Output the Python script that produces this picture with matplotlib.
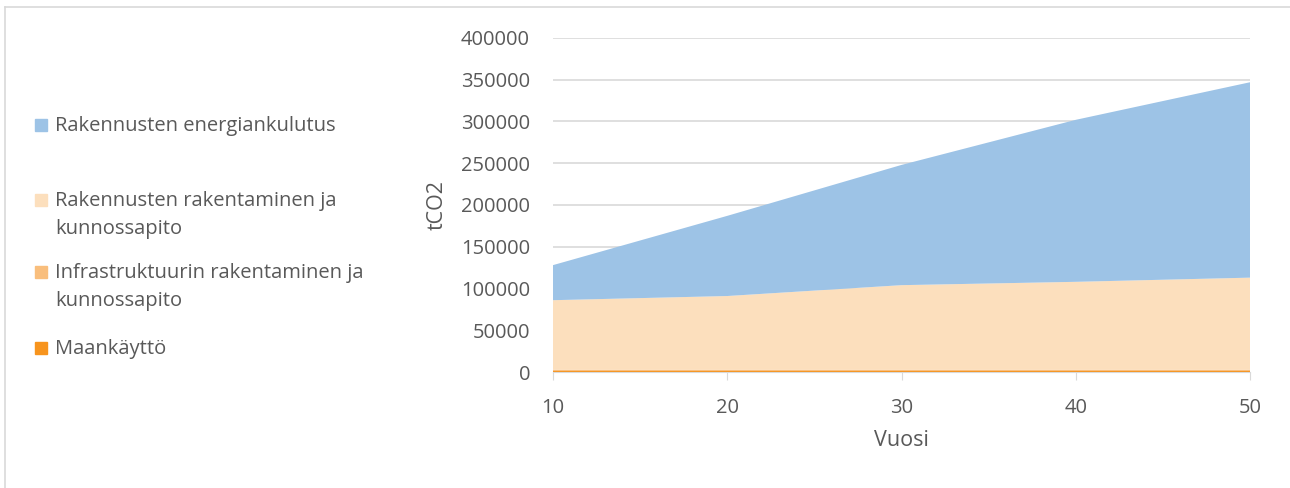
import matplotlib
matplotlib.use("Agg")
import matplotlib.pyplot as plt
from matplotlib.patches import Rectangle
from matplotlib.lines import Line2D

years = [10, 20, 30, 40, 50]
maankaytto = [1000, 1000, 1000, 1000, 1000]
infra = [1500, 1500, 1500, 1500, 1500]
rak_rakentaminen = [83500, 88500, 101500, 105500, 110500]
energiankulutus = [42000, 96000, 144000, 194000, 234000]

labels = ["Maankäyttö", "Infrastruktuurin rakentaminen ja\nkunnossapito",
          "Rakennusten rakentaminen ja\nkunnossapito", "Rakennusten energiankulutus"]
colors = ["#F7941D", "#F9BE7C", "#FCDFBD", "#9DC3E6"]

yticks = [0, 50000, 100000, 150000, 200000, 250000, 300000, 350000, 400000]

W, H = 1290, 488
plt.rcParams['font.family'] = ['Open Sans', 'DejaVu Sans']
fig = plt.figure(figsize=(W/100, H/100), dpi=100)
ax = fig.add_axes([553/W, 1 - 372/H, (1250-553)/W, (372-38)/H])

ax.stackplot(years, maankaytto, infra, rak_rakentaminen, energiankulutus,
             colors=colors, linewidth=0)
ax.set_xlim(10, 50)
ax.set_ylim(0, 400000)
ax.set_yticks(yticks)
ax.set_yticklabels([str(v) for v in yticks])
ax.set_xticks(years)
ax.grid(axis='y', color='#D9D9D9', linewidth=1.2)
ax.set_axisbelow(True)
for s in ['top', 'right', 'left']:
    ax.spines[s].set_visible(False)
ax.spines['bottom'].set_color('#D9D9D9')
ax.tick_params(axis='y', length=0, labelsize=14.5, colors='#595959', pad=16.5)
ax.tick_params(axis='x', length=6, direction='out', color='#D9D9D9', labelsize=14.5,
               labelcolor='#595959', pad=12.5)
ax.set_xlabel("Vuosi", fontsize=15.5, color='#595959')
ax.set_ylabel("tCO2", fontsize=15.5, color='#595959')
ax.xaxis.set_label_coords(0.5, (372 - 430) / 334)
ax.yaxis.set_label_coords((448 - 553) / 697, 0.5)

# manual legend (top to bottom)
entries = list(zip(labels[::-1], colors[::-1]))
ypos = [125, 200, 272, 348]
for (lab, col), y in zip(entries, ypos):
    fig.patches.append(Rectangle((35/W, 1 - (y + 6)/H), 12/W, 12/H,
                                 transform=fig.transFigure, color=col))
    fig.text(55/W, 1 - (y - 9)/H, lab, fontsize=14.5, color='#595959',
             va='top', ha='left', linespacing=1.55)

fig.lines.append(Line2D([5/W, 1], [1 - 7/H, 1 - 7/H], transform=fig.transFigure,
                        color='#D9D9D9', linewidth=1.2))
fig.lines.append(Line2D([5/W, 5/W], [0, 1 - 7/H], transform=fig.transFigure,
                        color='#D9D9D9', linewidth=1.2))
fig.savefig("out.png", dpi=100)
